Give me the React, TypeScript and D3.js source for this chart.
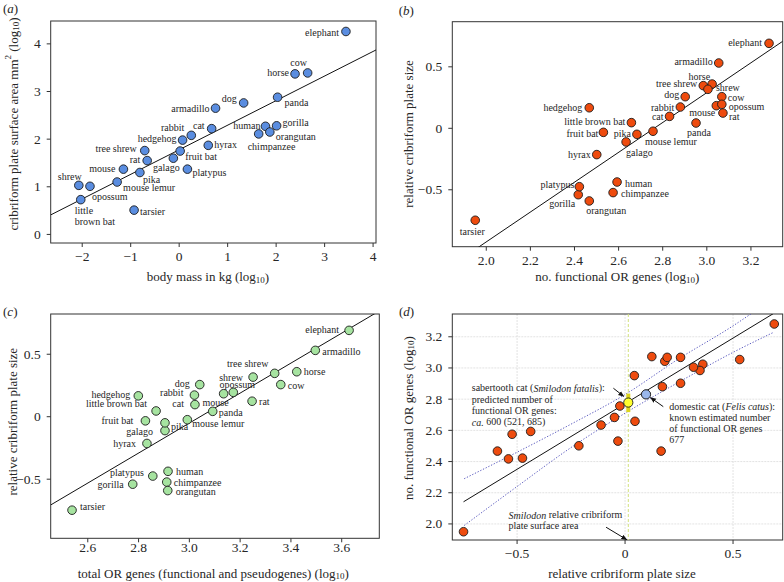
import React from "react";
import * as d3 from "d3";

// ---------- data ----------
const species = ["elephant","cow","horse","panda","dog","armadillo","human","gorilla","chimpanzee","orangutan","cat","rabbit","hedgehog","hyrax","fruit bat","galago","tree shrew","rat","platypus","mouse","pika","mouse lemur","shrew","opossum","little brown bat","tarsier"];
const bodyMassLog = [3.44,2.65,2.39,2.03,1.33,0.75,1.78,2.01,1.64,1.87,0.67,0.25,0.07,0.60,0.02,-0.12,-0.71,-0.66,0.17,-1.15,-0.81,-1.28,-2.07,-1.84,-2.03,-0.93];
const plateAreaLog = [4.26,3.39,3.37,2.88,2.76,2.65,2.27,2.28,2.11,2.15,2.22,2.08,1.98,1.87,1.75,1.60,1.76,1.55,1.37,1.37,1.30,1.10,1.03,1.01,0.73,0.51];
const functionalORLog = [3.282,3.068,3.024,2.951,2.902,3.054,2.593,2.417,2.575,2.467,2.831,2.880,2.467,2.501,2.531,2.634,2.984,3.073,2.422,3.043,2.683,2.756,3.005,3.068,2.658,1.950];
const totalORLog = [3.629,3.360,3.423,3.092,3.041,3.496,2.916,2.777,2.911,2.915,3.022,3.020,2.799,2.833,2.827,2.904,3.336,3.247,2.856,3.135,2.904,2.992,3.251,3.173,2.869,2.538];
const relativePlate = [0.691,0.257,0.360,0.043,0.257,0.531,-0.437,-0.540,-0.523,-0.591,0.097,0.173,0.167,-0.214,-0.033,-0.111,0.347,0.124,-0.475,0.184,-0.049,-0.024,0.317,0.195,0.046,-0.748];

const aXTicks = [-2,-1,0,1,2,3,4];
const aYTicks = [0,1,2,3,4];
const bXTicks = [2.0,2.2,2.4,2.6,2.8,3.0,3.2];
const relTicks = [-0.5,0,0.5];
const cXTicks = [2.6,2.8,3.0,3.2,3.4,3.6];
const dYTicks = [2.0,2.2,2.4,2.6,2.8,3.0,3.2];

// regression lines: [slope, intercept]
const fitA = [0.516, 1.777];
const fitB = [1.214, -3.352];
const fitC = [1.200, -3.651];
const fitD = [0.841, 2.771];
// confidence band of panel d (read)
const bandX = [-0.745,-0.5,-0.25,0,0.25,0.5,0.69];
const bandUpper = [2.29,2.46,2.64,2.83,3.06,3.27,3.45];
const bandLower = [1.99,2.24,2.49,2.71,2.91,3.10,3.23];
// sabertooth & domestic cat
const smilodonRel = 0.015;
const smilodonOR = [600, 521, 685];
const felisOR = 677;

// ---------- label placement (style, not data) ----------
type LP = [string, number, number];
const labA: Record<string, LP> = {
  "elephant":["e",-7,1],"cow":["m",-9,-10],"horse":["e",-6,-1],"panda":["s",7,5],"dog":["e",-7,-4],
  "armadillo":["e",-6,0],"human":["e",-5,-1],"gorilla":["s",6,-3],"chimpanzee":["s",-11,13],"orangutan":["s",6,4],
  "cat":["e",-7,-3],"rabbit":["e",-7,-8],"hedgehog":["e",-6,-2],"hyrax":["s",6,-1],"fruit bat":["s",5,5],
  "galago":["m",-7,9],"tree shrew":["e",-8,-2],"rat":["e",-7,-1],"platypus":["s",5,3],"mouse":["e",-8,-1],
  "pika":["s",3,7],"mouse lemur":["s",6,5],"shrew":["m",-9,-9],"opossum":["s",2,10],"little brown bat":["s",-6,11],
  "tarsier":["s",6,1]
};
const labB: Record<string, LP> = {
  "elephant":["e",-7,-1],"armadillo":["e",-6,-2],"horse":["e",-2,-8],"tree shrew":["e",-6,-2],"shrew":["s",8,-2],
  "dog":["e",-6,-2],"cow":["s",6,1],"opossum":["s",7,2],"mouse":["e",-1,7],"rat":["s",6,3],"rabbit":["e",-6,0],
  "hedgehog":["e",-7,0],"cat":["e",-6,0],"panda":["m",3,9],"little brown bat":["e",-6,-1],"fruit bat":["e",-5,1],
  "pika":["e",-6,-1],"mouse lemur":["s",-8,10],"galago":["s",0,11],"hyrax":["e",-6,0],"platypus":["e",-5,-2],
  "gorilla":["e",-3,9],"orangutan":["s",-3,10],"human":["s",8,1],"chimpanzee":["s",8,1],"tarsier":["m",-3,11]
};
const labC: Record<string, LP> = {
  "elephant":["e",-10,-1],"armadillo":["s",7,1],"horse":["s",7,0],"tree shrew":["m",-27,-10],"shrew":["e",-10,0],
  "cow":["s",7,1],"rat":["s",7,0],"opossum":["m",4,-8],"mouse":["e",5,9],"dog":["e",-10,-1],"rabbit":["e",-11,-3],
  "cat":["e",-11,-1],"panda":["s",6,1],"mouse lemur":["s",5,4],"hedgehog":["e",-8,-1],"little brown bat":["e",-9,-7],
  "fruit bat":["e",-12,0],"pika":["s",6,4],"galago":["e",-12,1],"hyrax":["e",-11,0],"platypus":["e",-9,-4],
  "gorilla":["e",-9,0],"human":["s",8,0],"chimpanzee":["s",7,0],"orangutan":["s",8,1],"tarsier":["s",8,-4]
};

const FONT = "'Liberation Serif','Times New Roman',serif";
const TXT = "#262626";
const anchorOf = (a: string) => (a === "s" ? "start" : a === "e" ? "end" : "middle");

type Frame = { l: number; r: number; t: number; b: number };

function fmtRel(v: number) { return v === 0 ? "0" : (v < 0 ? "\u2212" : "") + Math.abs(v).toFixed(1); }
function fmtInt(v: number) { return (v < 0 ? "\u2212" : "") + Math.abs(v); }
function fmt1(v: number) { return v.toFixed(1); }

function Axes({ id, f, x, y, xTicks, yTicks, xFmt, yFmt, xLabDy }: any) {
  return (
    <g>
      <rect x={f.l} y={f.t} width={f.r - f.l} height={f.b - f.t} fill="none" stroke="#333" strokeWidth={1} />
      {xTicks.map((v: number) => (
        <g key={"x" + v}>
          <line x1={x(v)} x2={x(v)} y1={f.b} y2={f.b + 4} stroke="#333" />
          <text x={x(v)} y={f.b + xLabDy} textAnchor="middle" dominantBaseline="central" fontSize={13.5} fill={TXT} fontFamily={FONT}>{xFmt(v)}</text>
        </g>
      ))}
      {yTicks.map((v: number) => (
        <g key={"y" + v}>
          <line x1={f.l - 4} x2={f.l} y1={y(v)} y2={y(v)} stroke="#333" />
          <text x={f.l - 10} y={y(v)} textAnchor="end" dominantBaseline="central" fontSize={13.5} fill={TXT} fontFamily={FONT}>{yFmt(v)}</text>
        </g>
      ))}
      <clipPath id={"clip" + id}><rect x={f.l} y={f.t} width={f.r - f.l} height={f.b - f.t} /></clipPath>
    </g>
  );
}

function Points({ xs, ys, x, y, color, labels }: any) {
  return (
    <g>
      {xs.map((xv: number, i: number) => (
        <circle key={i} cx={x(xv)} cy={y(ys[i])} r={4.3} fill={color} stroke="#1c1c1c" strokeWidth={0.9} />
      ))}
      {labels && xs.map((xv: number, i: number) => {
        const name = species[i];
        const lp = labels[name];
        if (!lp) return null;
        const px = x(xv) + lp[1], py = y(ys[i]) + lp[2];
        const lines = name === "little brown bat" && labels === labA ? ["little", "brown bat"] : [name];
        return lines.map((ln, k) => (
          <text key={i + "-" + k} x={px} y={py + k * 11} textAnchor={anchorOf(lp[0])} dominantBaseline="central" fontSize={10} fill={TXT} fontFamily={FONT}>{ln}</text>
        ));
      })}
    </g>
  );
}

function LogTitle({ x, y, text, rotate }: any) {
  return (
    <text x={x} y={y} transform={rotate ? `rotate(-90 ${x} ${y})` : undefined} textAnchor="middle" dominantBaseline="central" fontSize={13} fill={TXT} fontFamily={FONT}>
      {text}(log<tspan fontSize={9} dy={3}>10</tspan><tspan dy={-3}>)</tspan>
    </text>
  );
}

function PanelLetter({ x, y, l }: any) {
  return (
    <text x={x} y={y} fontSize={13} fill={TXT} fontFamily={FONT}>(<tspan fontStyle="italic">{l}</tspan>)</text>
  );
}

function fitPath(fit: number[], x: any, y: any, x0: number, x1: number) {
  return d3.line()([[x(x0), y(fit[1] + fit[0] * x0)], [x(x1), y(fit[1] + fit[0] * x1)]]) as string;
}

export default function App() {
  const A: Frame = { l: 50.7, r: 376, t: 21, b: 243 };
  const B: Frame = { l: 452.3, r: 782.7, t: 21.7, b: 246.7 };
  const C: Frame = { l: 50.7, r: 379.3, t: 314, b: 538.3 };
  const D: Frame = { l: 452.3, r: 782.7, t: 314, b: 540 };

  const ax = d3.scaleLinear().domain([-2.65, 4.06]).range([A.l, A.r]);
  const ay = d3.scaleLinear().domain([-0.18, 4.48]).range([A.b, A.t]);
  const bx = d3.scaleLinear().domain([1.846, 3.344]).range([B.l, B.r]);
  const by = d3.scaleLinear().domain([-0.963, 0.867]).range([B.b, B.t]);
  const cx = d3.scaleLinear().domain([2.454, 3.748]).range([C.l, C.r]);
  const cy = d3.scaleLinear().domain([-0.973, 0.822]).range([C.b, C.t]);
  const dx = d3.scaleLinear().domain([-0.80, 0.730]).range([D.l, D.r]);
  const dy = d3.scaleLinear().domain([1.897, 3.346]).range([D.b, D.t]);

  const relMin = d3.min(relativePlate) as number;
  const relMax = d3.max(relativePlate) as number;
  const bandLine = (vals: number[]) =>
    d3.line<number>().x((_, i) => dx(bandX[i])).y((v) => dy(v)).curve(d3.curveMonotoneX)(vals) as string;

  const catIdx = species.indexOf("cat");
  const sy = Math.log10(smilodonOR[0]);
  const sLo = Math.log10(smilodonOR[1]);
  const sHi = Math.log10(smilodonOR[2]);
  const fy = Math.log10(felisOR);

  const annX = (v: number) => dx(v);
  const annY = (v: number) => dy(v);

  return (
    <svg width={784} height={582} style={{ position: "absolute", left: 0, top: 0, background: "#fff" }} fontFamily={FONT}>
      <defs>
        <marker id="arr" viewBox="0 0 10 10" refX={9} refY={5} markerWidth={6} markerHeight={6} orient="auto">
          <path d="M0,1 L10,5 L0,9 z" fill="#111" />
        </marker>
      </defs>

      {/* ---------- panel a ---------- */}
      <PanelLetter x={3} y={12.5} l="a" />
      <Axes id="a" f={A} x={ax} y={ay} xTicks={aXTicks} yTicks={aYTicks} xFmt={fmtInt} yFmt={fmtInt} xLabDy={13.7} />
      <path d={fitPath(fitA, ax, ay, -2.65, 4.06)} stroke="#111" strokeWidth={1} fill="none" clipPath="url(#clipa)" />
      <Points xs={bodyMassLog} ys={plateAreaLog} x={ax} y={ay} color="#5a8de0" labels={labA} />
      <LogTitle x={208} y={276.7} text="body mass in kg " />
      <text x={13.3} y={124} transform="rotate(-90 13.3 124)" textAnchor="middle" dominantBaseline="central" fontSize={13} fill={TXT} fontFamily={FONT}>
        cribriform plate surface area mm<tspan fontSize={9} dy={-5}>2</tspan><tspan dy={5}> (log</tspan><tspan fontSize={9} dy={3}>10</tspan><tspan dy={-3}>)</tspan>
      </text>

      {/* ---------- panel b ---------- */}
      <PanelLetter x={398.7} y={14.5} l="b" />
      <Axes id="b" f={B} x={bx} y={by} xTicks={bXTicks} yTicks={relTicks} xFmt={fmt1} yFmt={fmtRel} xLabDy={14} />
      <path d={fitPath(fitB, bx, by, 1.846, 3.344)} stroke="#111" strokeWidth={1} fill="none" clipPath="url(#clipb)" />
      <Points xs={functionalORLog} ys={relativePlate} x={bx} y={by} color="#ee4b0e" labels={labB} />
      <LogTitle x={617.3} y={276.7} text="no. functional OR genes " />
      <text x={408} y={134} transform="rotate(-90 408 134)" textAnchor="middle" dominantBaseline="central" fontSize={13} fill={TXT} fontFamily={FONT}>relative cribriform plate size</text>

      {/* ---------- panel c ---------- */}
      <PanelLetter x={3} y={316} l="c" />
      <Axes id="c" f={C} x={cx} y={cy} xTicks={cXTicks} yTicks={relTicks} xFmt={fmt1} yFmt={fmtRel} xLabDy={8.7} />
      <path d={fitPath(fitC, cx, cy, 2.454, 3.748)} stroke="#111" strokeWidth={1} fill="none" clipPath="url(#clipc)" />
      <Points xs={totalORLog} ys={relativePlate} x={cx} y={cy} color="#a6e3a0" labels={labC} />
      <LogTitle x={213.3} y={573.3} text="total OR genes (functional and pseudogenes) " />
      <text x={13} y={421.7} transform="rotate(-90 13 421.7)" textAnchor="middle" dominantBaseline="central" fontSize={13} fill={TXT} fontFamily={FONT}>relative cribriform plate size</text>

      {/* ---------- panel d ---------- */}
      <PanelLetter x={399} y={316} l="d" />
      <g>
        {relTicks.map((v) => (
          <line key={"gx" + v} x1={dx(v)} x2={dx(v)} y1={D.t} y2={D.b} stroke="#dcdcdc" strokeWidth={0.8} strokeDasharray="2,1" />
        ))}
        {dYTicks.map((v) => (
          <line key={"gy" + v} x1={D.l} x2={D.r} y1={dy(v)} y2={dy(v)} stroke="#dcdcdc" strokeWidth={0.8} strokeDasharray="2,1" />
        ))}
      </g>
      <Axes id="d" f={D} x={dx} y={dy} xTicks={relTicks} yTicks={dYTicks} xFmt={fmtRel} yFmt={fmt1} xLabDy={13.3} />
      <line x1={dx(smilodonRel)} x2={dx(smilodonRel)} y1={D.t} y2={D.b} stroke="#d2e27c" strokeWidth={1} strokeDasharray="3,2" />
      <g clipPath="url(#clipd)">
        <path d={bandLine(bandUpper)} stroke="#4a4ab8" strokeWidth={0.9} strokeDasharray="1.3,1.7" fill="none" />
        <path d={bandLine(bandLower)} stroke="#4a4ab8" strokeWidth={0.9} strokeDasharray="1.3,1.7" fill="none" />
        <path d={fitPath(fitD, dx, dy, relMin, relMax)} stroke="#111" strokeWidth={1} fill="none" />
      </g>
      <Points xs={relativePlate} ys={functionalORLog} x={dx} y={dy} color="#ee4b0e" labels={null} />
      <rect x={dx(smilodonRel) - 2} y={dy(sHi)} width={4} height={dy(sLo) - dy(sHi)} fill="#dcd41c" />
      <circle cx={dx(smilodonRel)} cy={dy(sy)} r={4.6} fill="#ffff2e" stroke="#1c1c1c" strokeWidth={0.9} />
      <circle cx={dx(relativePlate[catIdx])} cy={dy(fy)} r={4.6} fill="#9ab7ec" stroke="#1c1c1c" strokeWidth={0.9} />

      {/* annotations */}
      <line x1={annX(-0.054)} y1={annY(2.87)} x2={annX(-0.006)} y2={annY(2.818)} stroke="#111" strokeWidth={1} markerEnd="url(#arr)" />
      <line x1={annX(0.177)} y1={annY(2.752)} x2={annX(0.118)} y2={annY(2.81)} stroke="#111" strokeWidth={1} markerEnd="url(#arr)" />
      <line x1={annX(-0.088)} y1={annY(1.979)} x2={annX(0.008)} y2={annY(1.899)} stroke="#111" strokeWidth={1} markerEnd="url(#arr)" />
      <g fontSize={10} fill={TXT} fontFamily={FONT}>
        <text x={annX(-0.71)} y={annY(2.872)} dominantBaseline="central">sabertooth cat (<tspan fontStyle="italic">Smilodon fatalis</tspan>):</text>
        <text x={annX(-0.71)} y={annY(2.872) + 11.3} dominantBaseline="central">predicted number of</text>
        <text x={annX(-0.71)} y={annY(2.872) + 22.6} dominantBaseline="central">functional OR genes:</text>
        <text x={annX(-0.71)} y={annY(2.872) + 33.9} dominantBaseline="central"><tspan fontStyle="italic">ca.</tspan> 600 (521, 685)</text>
        <text x={annX(0.205)} y={annY(2.756)} dominantBaseline="central">domestic cat (<tspan fontStyle="italic">Felis catus</tspan>):</text>
        <text x={annX(0.205)} y={annY(2.756) + 11.3} dominantBaseline="central">known estimated number</text>
        <text x={annX(0.205)} y={annY(2.756) + 22.6} dominantBaseline="central">of functional OR genes</text>
        <text x={annX(0.205)} y={annY(2.756) + 33.9} dominantBaseline="central">677</text>
        <text x={annX(-0.54)} y={annY(2.058)} dominantBaseline="central"><tspan fontStyle="italic">Smilodon</tspan> relative cribriform</text>
        <text x={annX(-0.54)} y={annY(2.058) + 11} dominantBaseline="central">plate surface area</text>
      </g>
      <LogTitle x={408} y={418} text="no. functional OR genes " rotate />
      <text x={622} y={573.3} textAnchor="middle" dominantBaseline="central" fontSize={13} fill={TXT} fontFamily={FONT}>relative cribriform plate size</text>
    </svg>
  );
}
